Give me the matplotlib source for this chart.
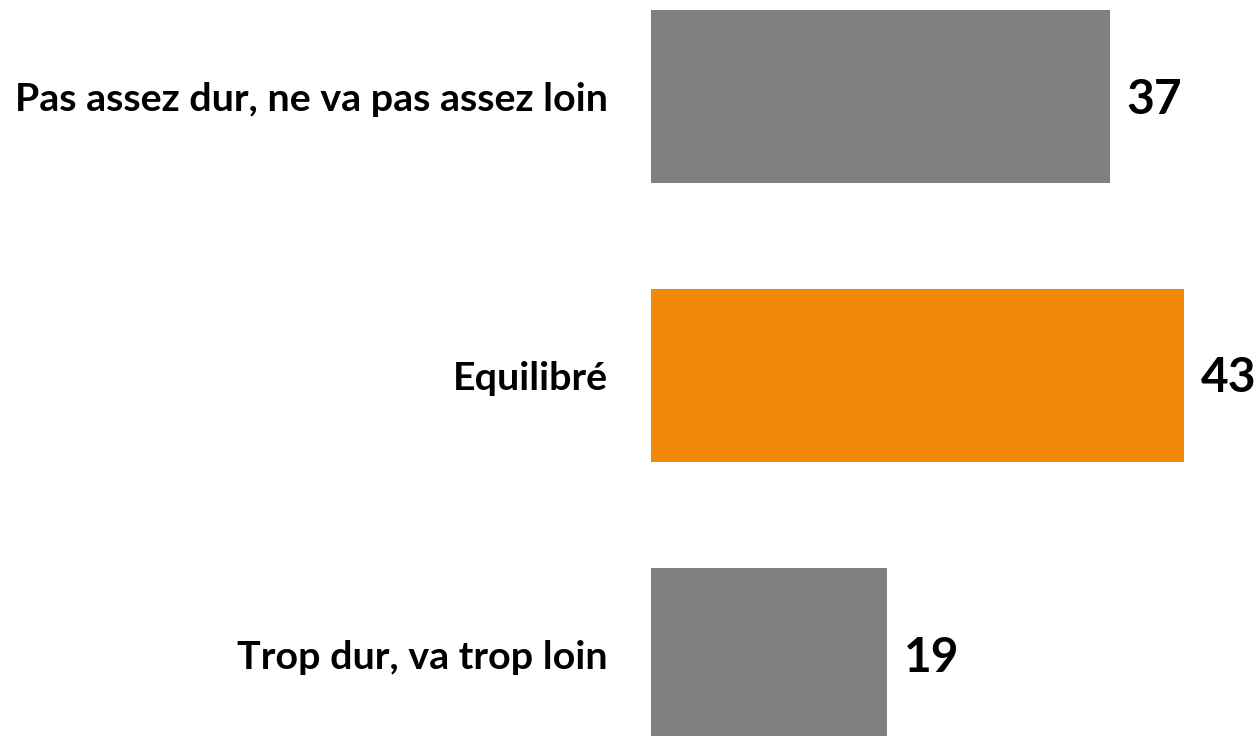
import matplotlib.pyplot as plt

categories = ["Pas assez dur, ne va pas assez loin", "Equilibré", "Trop dur, va trop loin"]
values = [37, 43, 19]
colors = ["#808080", "#F0880A", "#808080"]

plt.rcParams['font.family'] = ['Lato', 'DejaVu Sans']

fig = plt.figure(figsize=(12.59, 7.36), dpi=100)
# bars start at x=651 px, 12.4 px per unit
ax = fig.add_axes([651 / 1259, 0, 608 / 1259, 1])
ax.set_xlim(0, 608 / 12.4)
ax.set_ylim((736 - 96.5) / 279, -96.5 / 279)

pos = list(range(len(values)))
ax.barh(pos, values, height=173 / 279, color=colors)

for p, v, c in zip(pos, values, categories):
    ax.annotate(str(v), (v, p), xytext=(17, -3), textcoords='offset pixels',
                ha='left', va='center', fontsize=34.5, fontweight='bold')
    ax.annotate(c, (0, p), xytext=(-43, -3), textcoords='offset pixels',
                ha='right', va='center', fontsize=28.4, fontweight='bold',
                annotation_clip=False)

ax.axis('off')
fig.savefig("out.png", dpi=100)
